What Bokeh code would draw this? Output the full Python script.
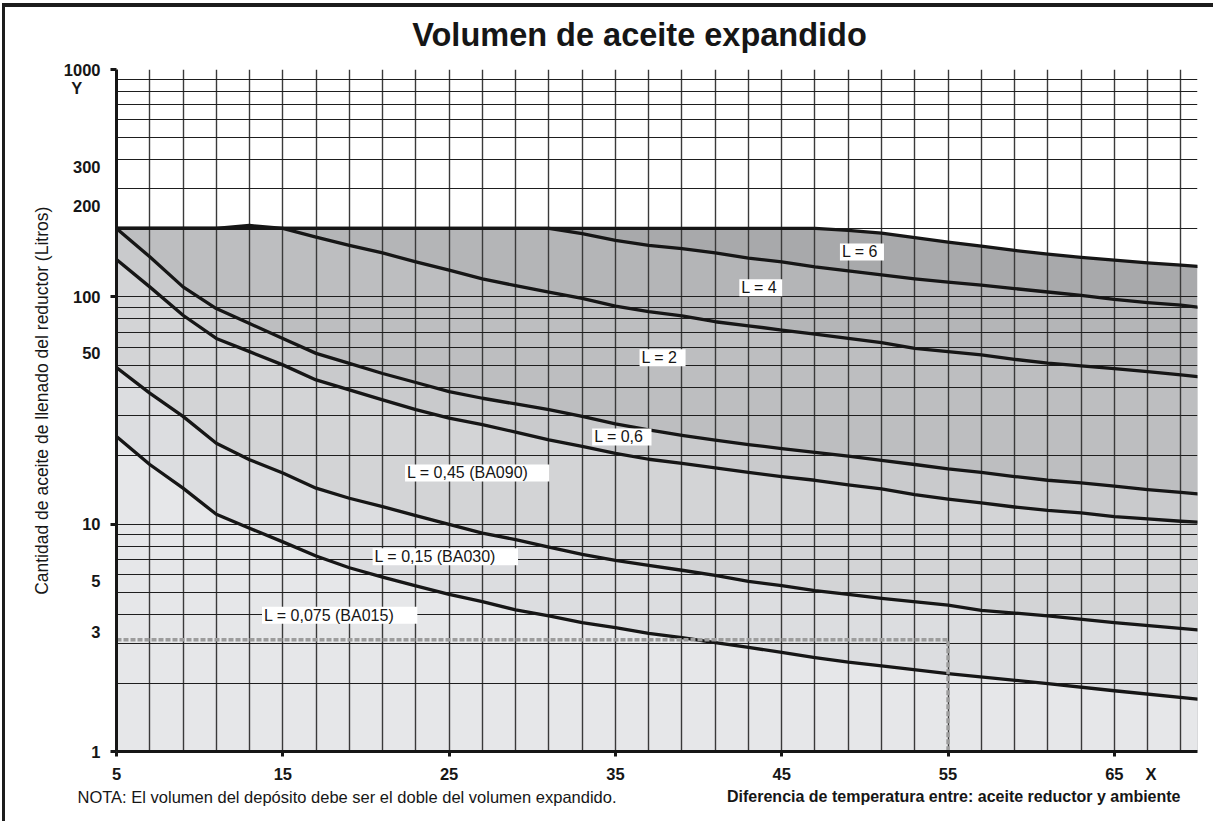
from bokeh.plotting import figure
from bokeh.layouts import column
from bokeh.models import FixedTicker, Label, Range1d
from bokeh.core.properties import value
from bokeh.embed import file_html
from bokeh.resources import INLINE

# Temperature difference (X, °C) and expanded oil volume (Y, litres) per curve
x_l0075 = [5, 7, 9, 11, 13, 15, 17, 19, 21, 23, 25, 27, 29, 31, 33, 35, 37, 39, 41, 43, 45, 47, 49, 51, 55, 61, 65, 70]
y_l0075 = [24.3, 18.3, 14.4, 11.05, 9.6, 8.36, 7.24, 6.43, 5.85, 5.35, 4.91, 4.56, 4.2, 3.95, 3.69, 3.51, 3.31, 3.17,
           3.01, 2.87, 2.73, 2.59, 2.47, 2.38, 2.2, 1.99, 1.85, 1.7]

x_l015 = [5, 7, 9, 11, 13, 15, 17, 19, 21, 23, 25, 27, 29, 31, 33, 35, 37, 39, 41, 43, 45, 47, 49, 51, 55, 57, 61, 65, 70]
y_l015 = [48.8, 37.7, 29.8, 22.7, 19.2, 16.8, 14.4, 13.0, 11.95, 10.9, 9.97, 9.14, 8.55, 7.93, 7.36, 6.93, 6.59, 6.27,
          5.95, 5.6, 5.37, 5.1, 4.91, 4.72, 4.4, 4.18, 3.95, 3.69, 3.43]

x_l045 = [5, 7, 9, 11, 13, 15, 17, 19, 21, 23, 25, 27, 29, 31, 33, 35, 37, 39, 41, 43, 45, 47, 49, 51, 53, 55, 57, 59,
          61, 63, 65, 67, 69, 70]
y_l045 = [146, 110.6, 83, 65.6, 57.4, 50.2, 43.1, 39, 35.2, 31.9, 29.3, 27.4, 25.4, 23.5, 22, 20.5, 19.3, 18.5, 17.7,
          16.9, 16.2, 15.6, 14.9, 14.3, 13.5, 12.9, 12.4, 11.9, 11.5, 11.2, 10.8, 10.55, 10.3, 10.2]

x_l06 = [5, 7, 9, 11, 13, 15, 17, 19, 21, 23, 25, 27, 29, 31, 33, 35, 37, 39, 41, 43, 45, 47, 49, 51, 53, 55, 57, 59,
         61, 63, 65, 67, 69, 70]
y_l06 = [200, 150, 110.6, 88.8, 76.3, 65.6, 56.4, 51, 46, 42, 38.3, 35.8, 33.8, 31.9, 29.8, 27.6, 26, 24.6, 23.4, 22.4,
         21.5, 20.7, 19.9, 19.1, 18.3, 17.5, 16.9, 16.2, 15.6, 15.2, 14.7, 14.2, 13.8, 13.6]

x_l2 = [5, 11, 13, 15, 17, 19, 21, 23, 25, 27, 29, 31, 33, 35, 37, 39, 41, 43, 45, 47, 49, 51, 53, 55, 57, 59, 61, 63,
        65, 67, 69, 70]
y_l2 = [200, 200, 206, 200, 183, 168.5, 156, 142.4, 131, 120, 112, 105, 98.5, 91, 86, 82.5, 77.7, 74.6, 71.4, 68.6,
        65.6, 62.9, 59.3, 57.4, 55.5, 53.1, 51.1, 49.7, 48.3, 46.9, 45.4, 44.6]

x_l4 = [5, 31, 33, 35, 37, 39, 41, 43, 45, 47, 49, 51, 53, 55, 57, 59, 61, 63, 65, 67, 69, 70]
y_l4 = [200, 200, 189.5, 177, 168.5, 163, 156, 148, 142.4, 135.4, 130, 125, 120, 116, 112.5, 108.7, 105, 101.5, 97.5,
        94.4, 91.9, 90]

x_l6 = [5, 47, 49, 51, 53, 55, 57, 59, 61, 63, 65, 67, 69, 70]
y_l6 = [200, 200, 196, 190.8, 182, 174, 167, 160, 154, 149, 145, 141, 138, 136]

# Worked example: reading 3.1 l at a temperature difference of 55
example_x = [5, 55, 55]
example_y = [3.1, 3.1, 1]

curve_names = ["L = 6", "L = 4", "L = 2", "L = 0,6", "L = 0,45 (BA090)", "L = 0,15 (BA030)", "L = 0,075 (BA015)"]
curves_x = [x_l6, x_l4, x_l2, x_l06, x_l045, x_l015, x_l0075]
curves_y = [y_l6, y_l4, y_l2, y_l06, y_l045, y_l015, y_l0075]
band_colors = ["#a8a9ab", "#b4b5b7", "#bdbec0", "#c9cacc", "#d3d4d6", "#dcdde0", "#e6e7e9"]

x_tick_values = [5, 15, 25, 35, 45, 55, 65]
x_tick_labels = ["5", "15", "25", "35", "45", "55", "65"]
y_tick_labels = ["1", "3", "5", "10", "50", "100", "200", "300", "1000"]

title_text = "Volumen de aceite expandido"
y_title = "Cantidad de aceite de llenado del reductor (Litros)"
note_text = "NOTA: El volumen del depósito debe ser el doble del volumen expandido."
x_title = "Diferencia de temperatura entre: aceite reductor y ambiente"

FONT = "Liberation Sans"
INK = "#161616"
W = 1208
NBSP = "\u00a0"

# label anchors on the log axis (non-decade labels sit a little above their gridline)
y_label_anchor = [1, 3.34, 5.63, 10, 56.7, 100, 252, 373, 1000]
y_letter_anchor = 828      # "Y" caption under the top label
x_letter_anchor = 67.2     # "X" caption after the last label


def blank_panel(height):
    f = figure(width=W, height=height, x_range=Range1d(0, W), y_range=Range1d(0, height), title=None,
               x_axis_location=None, y_axis_location=None, min_border=0, output_backend="svg",
               toolbar_location=None, background_fill_color="white", border_fill_color="white",
               frame_align=False)
    f.outline_line_color = None
    f.xgrid.visible = False
    f.ygrid.visible = False
    return f


# heading
head = blank_panel(52)
head.text(x=[W / 2 + 30], y=[25], text=[title_text], text_font=value(FONT), text_font_size="32.5px",
          text_font_style="bold", text_align="center", text_baseline="alphabetic", text_color=INK)

# main chart
p = figure(width=W, height=727, x_range=Range1d(5, 70), y_range=Range1d(1, 1000), y_axis_type="log", title=None,
           output_backend="svg", toolbar_location=None, min_border_left=111, min_border_right=16,
           min_border_top=10, min_border_bottom=35, background_fill_color="white", border_fill_color="white",
           frame_align=False)
p.outline_line_color = None

# shaded bands: each region filled from its curve down to the axis, darkest first
for xs, ys, col in zip(curves_x, curves_y, band_colors):
    p.varea(x=xs, y1=1, y2=ys, fill_color=col, level="image")

# grid
p.xgrid.ticker = FixedTicker(ticks=list(range(5, 70, 2)))
p.xgrid.grid_line_color = "#3a3a3a"
p.xgrid.grid_line_width = 1.4
ygrid_ticks = [m * d for d in (1, 10, 100) for m in range(2, 10)] + [10, 100, 1000]
p.ygrid.ticker = FixedTicker(ticks=sorted(ygrid_ticks))
p.ygrid.grid_line_color = "#1e1e1e"
p.ygrid.grid_line_width = 1.1

# curves
for xs, ys in zip(curves_x, curves_y):
    p.line(xs, ys, line_color=INK, line_width=3.3, line_join="round", line_cap="round")

p.line(example_x, example_y, line_color="#9c9c9c", line_width=3.5, line_dash="5 2")

# x axis: tick marks on the labelled values, plus the "X" caption
xa = p.xaxis[0]
xa.ticker = FixedTicker(ticks=x_tick_values + [x_letter_anchor], minor_ticks=x_tick_values)
xa.major_label_overrides = {**{v: t for v, t in zip(x_tick_values, x_tick_labels)}, x_letter_anchor: "X"}
xa.axis_line_width = 3
xa.axis_line_color = INK
xa.major_tick_out = 0
xa.major_tick_in = 0
xa.major_tick_line_color = None
xa.minor_tick_out = 5
xa.minor_tick_in = 0
xa.minor_tick_line_width = 3
xa.minor_tick_line_color = INK
xa.major_label_standoff = 8
xa.major_label_text_font = FONT
xa.major_label_text_font_style = "bold"
xa.major_label_text_font_size = "16.5px"
xa.major_label_text_color = INK

# y axis: tick marks on decades, labels, "Y" caption and axis title
ya = p.yaxis[0]
ya.ticker = FixedTicker(ticks=y_label_anchor + [y_letter_anchor], minor_ticks=[1, 10, 100, 1000])
ya.major_label_overrides = {**{v: t for v, t in zip(y_label_anchor, y_tick_labels)},
                            y_letter_anchor: "Y" + NBSP * 4}
ya.axis_line_width = 3
ya.axis_line_color = INK
ya.major_tick_out = 0
ya.major_tick_in = 0
ya.major_tick_line_color = None
ya.minor_tick_out = 6
ya.minor_tick_in = 0
ya.minor_tick_line_width = 3
ya.minor_tick_line_color = INK
ya.major_label_standoff = 10
ya.major_label_text_font = FONT
ya.major_label_text_font_style = "bold"
ya.major_label_text_font_size = "16.5px"
ya.major_label_text_color = INK
ya.axis_label = NBSP * 4 + y_title
ya.axis_label_text_font = FONT
ya.axis_label_text_font_style = "normal"
ya.axis_label_text_font_size = "17.5px"
ya.axis_label_text_color = INK
ya.axis_label_standoff = 9

# curve labels on white tags
label_x = [48.5, 42.45, 36.45, 33.6, 22.35, 20.4, 13.75]
label_y = [157.6, 109.6, 53.9, 24.2, 16.8, 7.18, 3.97]
label_pad_right = [6, 5, 8, 8, 21, 22, 23]
for name, lx, ly, pr in zip(curve_names, label_x, label_y, label_pad_right):
    p.add_layout(Label(x=lx, y=ly, text=name, text_font=FONT, text_font_size="16px", text_color=INK,
                       text_baseline="middle", text_align="left", background_fill_color="white",
                       padding=dict(left=2, right=pr, top=0, bottom=0)))

# footer line: note on the left, axis description on the right
foot = blank_panel(35)
foot.text(x=[72], y=[25], text=[note_text], text_font=value(FONT), text_font_size="16.5px",
          text_align="left", text_baseline="alphabetic", text_color=INK)
foot.text(x=[1175], y=[25], text=[x_title], text_font=value(FONT), text_font_size="16px",
          text_font_style="bold", text_align="right", text_baseline="alphabetic", text_color=INK)

page = column(head, p, foot, spacing=0)
page.styles = {"border-top": "4px solid #1c1c1c", "border-left": "3px solid #1c1c1c",
               "margin-top": "3px", "margin-left": "2px"}

open("out.html", "w").write(file_html(page, INLINE))
